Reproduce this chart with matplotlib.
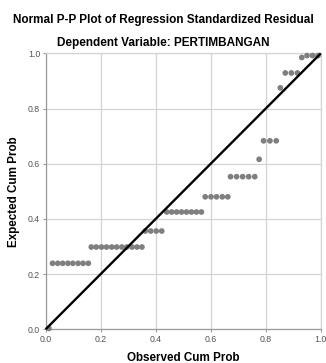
import matplotlib
matplotlib.use("Agg")
import matplotlib.pyplot as plt

plt.rcParams['font.family'] = ['Liberation Sans', 'DejaVu Sans']

title_main = "Normal P-P Plot of Regression Standardized Residual"
title_sub = "Dependent Variable: PERTIMBANGAN"
x_label = "Observed Cum Prob"
y_label = "Expected Cum Prob"
tick_values = [0.0, 0.2, 0.4, 0.6, 0.8, 1.0]
tick_labels = ["0.0", "0.2", "0.4", "0.6", "0.8", "1.0"]

observed = [0.012,
            0.025, 0.044, 0.062, 0.081, 0.099, 0.118, 0.136, 0.155,
            0.166, 0.184, 0.203, 0.221, 0.240, 0.258, 0.277, 0.295, 0.314, 0.332, 0.350,
            0.362, 0.382, 0.402, 0.422,
            0.440, 0.458, 0.476, 0.494, 0.512, 0.530, 0.548, 0.566,
            0.580, 0.601, 0.621, 0.642, 0.662,
            0.672, 0.694, 0.716, 0.738, 0.760,
            0.776,
            0.792, 0.815, 0.838,
            0.853,
            0.871, 0.893, 0.915,
            0.931, 0.950, 0.970, 0.990]
expected = [0.003,
            0.239, 0.239, 0.239, 0.239, 0.239, 0.239, 0.239, 0.239,
            0.298, 0.298, 0.298, 0.298, 0.298, 0.298, 0.298, 0.298, 0.298, 0.298, 0.298,
            0.356, 0.356, 0.356, 0.356,
            0.425, 0.425, 0.425, 0.425, 0.425, 0.425, 0.425, 0.425,
            0.480, 0.480, 0.480, 0.480, 0.480,
            0.553, 0.553, 0.553, 0.553, 0.553,
            0.616,
            0.683, 0.683, 0.683,
            0.875,
            0.929, 0.929, 0.929,
            0.985, 0.992, 0.992, 0.992]
ref_line = [0.0, 1.0]

fig = plt.figure(figsize=(3.26, 3.63), dpi=100)
ax = fig.add_axes([0.140, 0.093, 0.844, 0.760])

ax.scatter(observed, expected, s=17, color='#7f7f7f', edgecolors='none', zorder=3, clip_on=False)
ax.plot(ref_line, ref_line, color='black', linewidth=1.7, zorder=4, clip_on=False, solid_capstyle='butt')

ax.set_xlim(0, 1)
ax.set_ylim(0, 1)
ax.set_xticks(tick_values)
ax.set_xticklabels(tick_labels)
ax.set_yticks(tick_values)
ax.set_yticklabels(tick_labels)
ax.grid(True, color='#d4d4d4', linewidth=0.9)
ax.set_axisbelow(True)
for side in ['top', 'right']:
    ax.spines[side].set_color('#d4d4d4')
    ax.spines[side].set_linewidth(0.9)
for side in ['left', 'bottom']:
    ax.spines[side].set_color('#9a9a9a')
    ax.spines[side].set_linewidth(0.9)
ax.tick_params(axis='both', labelsize=6.3, colors='#9a9a9a', labelcolor='#555555',
               length=2.5, width=0.8, pad=1.5)

ax.set_xlabel(x_label, fontsize=8.4, fontweight='bold', labelpad=6)
ax.set_ylabel(y_label, fontsize=8.4, fontweight='bold', labelpad=6)

fig.text(0.5, 1 - 20 / 363, title_main, ha='center', va='center', fontsize=8.5, fontweight='bold')
fig.text(0.5, 1 - 43 / 363, title_sub, ha='center', va='center', fontsize=8.5, fontweight='bold')

fig.savefig("out.png", dpi=100)
